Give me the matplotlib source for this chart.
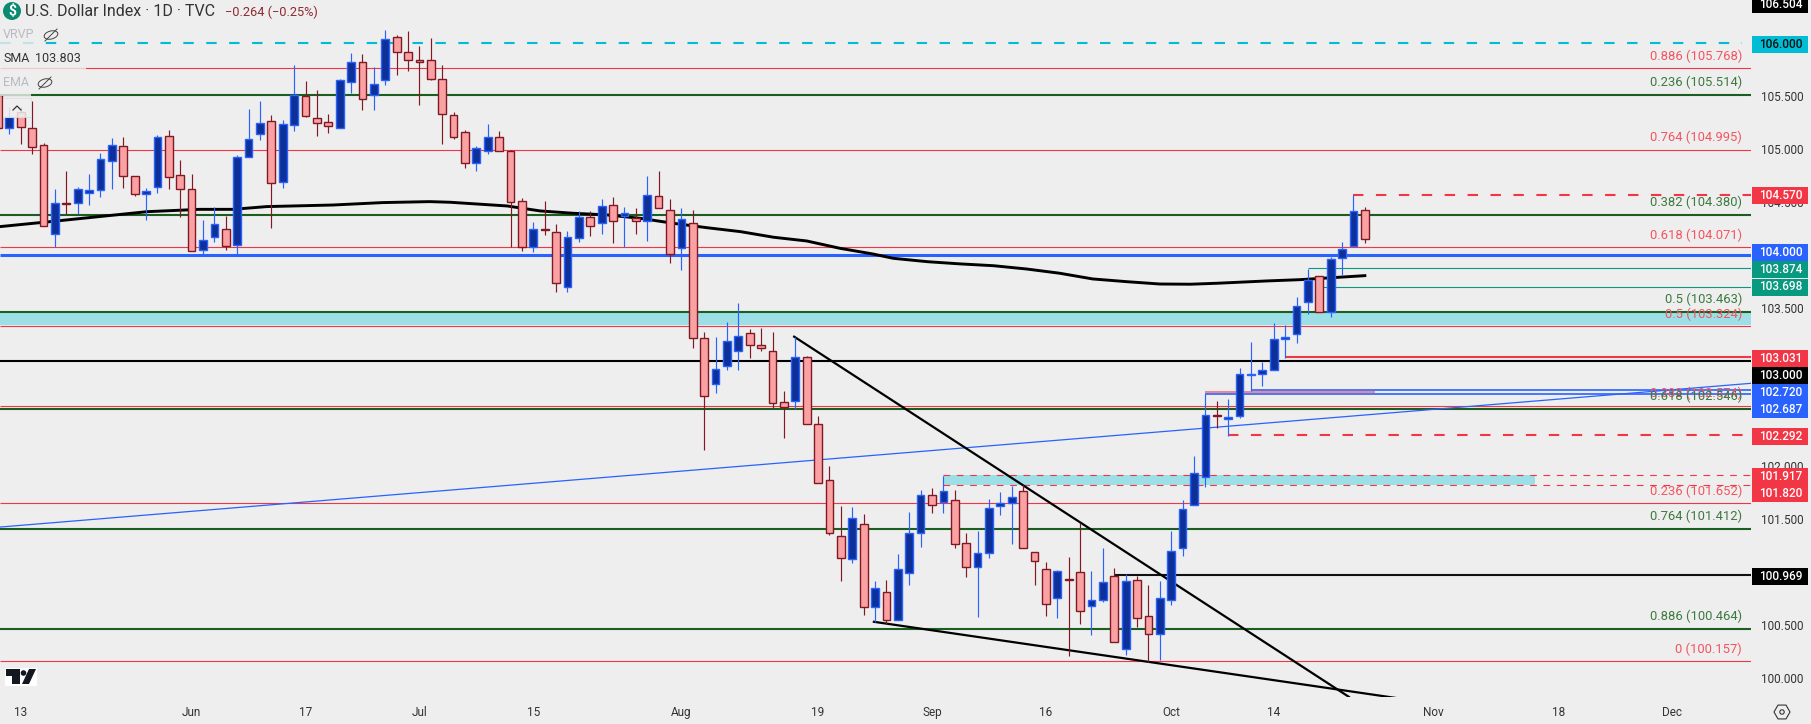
import numpy as np
import matplotlib
matplotlib.use("Agg")
import matplotlib.pyplot as plt
from matplotlib.patches import Rectangle, Circle, Ellipse, Polygon, RegularPolygon

plt.rcParams['font.family'] = ['Roboto', 'DejaVu Sans']

# candles, first one is cut off by the left edge
opens = [105.512, 105.196, 105.354, 105.196, 105.036, 104.194, 104.487, 104.487, 104.588, 104.610,
         104.891, 105.026, 104.743, 104.572, 104.639, 105.121, 104.752, 104.620, 104.043, 104.166,
         104.241, 104.090, 104.922, 105.140, 105.263, 104.686, 105.225, 105.499, 105.291, 105.253,
         105.196, 105.631, 105.821, 105.508, 105.650, 106.057, 105.915, 105.839, 105.839, 105.660,
         105.323, 105.159, 104.865, 104.979, 105.111, 104.979, 104.506, 104.071, 104.241, 104.213,
         103.693, 104.156, 104.355, 104.298, 104.468, 104.364, 104.345, 104.317, 104.553, 104.421,
         104.062, 104.298, 103.211, 102.776, 102.946, 103.088, 103.258, 103.144, 103.088, 102.605,
         102.615, 103.031, 102.397, 101.868, 101.338, 101.121, 101.452, 100.667, 100.809, 100.544,
         100.988, 101.367, 101.726, 101.660, 101.679, 101.272, 101.045, 101.177, 101.622, 101.650,
         101.764, 101.187, 101.026, 100.752, 100.932, 100.998, 100.676, 100.733, 100.960, 100.270,
         100.922, 100.582, 100.412, 100.733, 101.225, 101.631, 101.896, 102.482, 102.448, 102.473,
         102.867, 102.870, 102.908, 103.201, 103.248, 103.551, 103.797, 103.456, 103.967, 104.081,
         104.421]
closes = [105.196, 105.307, 105.206, 105.017, 104.276, 104.487, 104.484, 104.620, 104.610, 104.903,
          105.036, 104.743, 104.572, 104.601, 105.111, 104.733, 104.620, 104.033, 104.137, 104.289,
          104.081, 104.922, 105.092, 105.244, 104.676, 105.234, 105.508, 105.316, 105.244, 105.215,
          105.650, 105.821, 105.471, 105.613, 106.038, 105.915, 105.839, 105.821, 105.660, 105.329,
          105.118, 104.865, 105.007, 105.111, 104.979, 104.497, 104.071, 104.241, 104.238, 103.731,
          104.166, 104.355, 104.270, 104.459, 104.317, 104.393, 104.317, 104.563, 104.440, 104.005,
          104.336, 103.211, 102.662, 102.917, 103.182, 103.230, 103.144, 103.116, 102.596, 102.558,
          103.031, 102.397, 101.839, 101.367, 101.130, 101.508, 100.667, 100.846, 100.544, 101.026,
          101.367, 101.726, 101.631, 101.764, 101.263, 101.045, 101.177, 101.603, 101.650, 101.707,
          101.225, 101.102, 100.695, 101.007, 100.928, 100.629, 100.733, 100.903, 100.336, 100.913,
          100.563, 100.412, 100.752, 101.196, 101.594, 101.934, 102.482, 102.479, 102.467, 102.870,
          102.870, 102.908, 103.201, 103.220, 103.513, 103.759, 103.456, 103.958, 104.052, 104.412,
          104.147]
highs = [105.527, 105.401, 105.401, 105.455, 105.055, 104.623, 104.793, 104.645, 104.765, 104.963,
         105.105, 105.114, 104.743, 104.632, 105.133, 105.181, 104.897, 104.765, 104.330, 104.453,
         104.371, 104.944, 105.379, 105.455, 105.323, 105.275, 105.792, 105.644, 105.559, 105.332,
         105.660, 105.909, 105.899, 105.776, 106.126, 106.079, 106.117, 105.975, 106.051, 105.792,
         105.354, 105.181, 105.029, 105.234, 105.171, 104.992, 104.538, 104.308, 104.509, 104.289,
         104.222, 104.412, 104.415, 104.528, 104.547, 104.453, 104.443, 104.746, 104.793, 104.528,
         104.443, 104.424, 103.270, 103.223, 103.365, 103.545, 103.296, 103.308, 103.270, 102.709,
         103.226, 103.040, 102.473, 102.003, 101.622, 101.613, 101.546, 100.916, 100.925, 101.171,
         101.568, 101.776, 101.795, 101.906, 101.776, 101.367, 101.389, 101.691, 101.757, 101.814,
         101.824, 101.187, 101.092, 101.020, 101.143, 101.461, 101.010, 101.228, 101.039, 100.979,
         100.963, 100.878, 100.916, 101.389, 101.682, 102.098, 102.684, 102.618, 102.637, 102.930,
         103.176, 102.987, 103.356, 103.337, 103.601, 103.863, 103.797, 103.977, 104.122, 104.566,
         104.449]
lows = [105.165, 105.140, 105.048, 104.957, 104.276, 104.074, 104.386, 104.386, 104.475, 104.550,
        104.623, 104.632, 104.560, 104.333, 104.588, 104.623, 104.361, 104.033, 103.999, 104.122,
        104.046, 104.008, 104.922, 105.086, 104.254, 104.632, 105.174, 105.307, 105.124, 105.152,
        105.196, 105.531, 105.370, 105.370, 105.606, 105.701, 105.739, 105.417, 105.653, 105.048,
        105.096, 104.824, 104.796, 104.957, 104.979, 104.077, 104.040, 104.030, 104.191, 103.652,
        103.652, 104.125, 104.178, 104.200, 104.115, 104.077, 104.200, 104.134, 104.440, 103.926,
        103.860, 103.122, 102.158, 102.697, 102.914, 102.914, 103.028, 103.094, 102.549, 102.271,
        102.539, 102.397, 101.839, 101.354, 100.916, 101.086, 100.594, 100.528, 100.509, 100.544,
        100.878, 101.237, 101.559, 101.559, 101.228, 100.954, 100.575, 101.133, 101.540, 101.266,
        101.225, 100.878, 100.585, 100.566, 100.207, 100.509, 100.405, 100.717, 100.336, 100.216,
        100.481, 100.150, 100.169, 100.689, 101.152, 101.631, 101.808, 102.363, 102.287, 102.457,
        102.713, 102.760, 102.908, 103.025, 103.166, 103.441, 103.456, 103.412, 103.810, 104.081,
        104.112]

# 200 sma at these bars
sma_x = [-0.8, 3.6, 12.1, 16.7, 19.6, 22.6, 28.4, 32.8, 36.9, 38.7, 43.7, 46.6, 49.5, 52.5, 55.4, 58.3,
         61.2, 64.2, 67.1, 70.0, 72.9, 75.8, 77.6, 80.6, 83.5, 86.4, 89.3, 92.2, 95.1, 98.1, 101.0,
         103.7, 106.0, 110.4, 113.3, 119.0]
sma_y = [104.267, 104.314, 104.408, 104.430, 104.430, 104.456, 104.471, 104.494, 104.503, 104.497,
         104.462, 104.415, 104.393, 104.377, 104.345, 104.298, 104.257, 104.219, 104.166, 104.131,
         104.062, 104.008, 103.967, 103.935, 103.914, 103.897, 103.866, 103.826, 103.772, 103.746,
         103.724, 103.722, 103.731, 103.753, 103.765, 103.803]

# fib levels
red_fibs = [105.768, 104.995, 104.071, 103.324, 102.574, 101.652, 100.157]
red_names = ["0.886", "0.764", "0.618", "0.5", "0.382", "0.236", "0"]
green_fibs = [105.514, 104.380, 103.463, 102.546, 101.412, 100.464]
green_names = ["0.236", "0.382", "0.5", "0.618", "0.764", "0.886"]

# trendlines
fall_x = [68.9, 117.6]
fall_y = [103.226, 99.82]
wedge_x = [75.9, 121.7]
wedge_y = [100.53, 99.81]
rise_x = [-0.8, 152.9]
rise_y = [101.426, 102.785]

# price tags on the right
tag_vals = ["106.504", "106.000", "104.570", "104.000", "103.874", "103.698", "103.031", "103.000",
            "102.720", "102.687", "102.292", "101.917", "101.820", "100.969"]
tag_px = [4, 44.7, 195.5, 252.7, 269.5, 287, 358.7, 375.7, 392.7, 409.7, 436.7, 476.7, 493.7, 576.3]
tag_bg = ["#000000", "#00BCD4", "#F23645", "#2962FF", "#089981", "#089981", "#F23645", "#000000",
          "#2962FF", "#2962FF", "#F23645", "#F23645", "#F23645", "#000000"]

date_pos = [1, 16, 26, 36, 46, 59, 71, 81, 91, 102, 111, 125, 136, 146]
date_txt = ["13", "Jun", "17", "Jul", "15", "Aug", "19", "Sep", "16", "Oct", "14", "Nov", "18", "Dec"]

bg = "#EEEEEE"
red = "#F23645"
green = "#1B5E20"
blue = "#2962FF"

fig = plt.figure(figsize=(18.11, 7.24), dpi=100, facecolor=bg)
ax = fig.add_axes([0, (724 - 697.3) / 724, 1751 / 1811, 697.3 / 724], facecolor=bg)
ax.set_xlim(-0.82, 152.9)
ax.set_ylim(99.816, 106.4095)

# zones
ax.fill_between([-0.82, 152.9], 103.335, 103.45, color="#9DDFE6", lw=0, zorder=1)
ax.fill_between([82, 133.9], 101.82, 101.917, color="#9DDFE6", lw=0, zorder=1)

# levels
ax.hlines(red_fibs, -0.82, 152.9, color=red, lw=0.8, zorder=2)
ax.hlines(green_fibs, -0.82, 152.9, color=green, lw=1.5, zorder=2)
ax.hlines(104.0, -0.82, 152.9, color=blue, lw=2.2, zorder=2)
ax.hlines(103.0, -0.82, 152.9, color="black", lw=1.5, zorder=2)
ax.hlines(100.969, 97, 152.9, color="#111111", lw=1.5, zorder=2)
ax.hlines(106.0, -0.82, 152.1, color="#00BCD4", lw=1.5, linestyle=(0, (5, 6)), zorder=2)
ax.hlines(104.57, 118, 152.9, color=red, lw=1.5, linestyle=(0, (5, 6)), zorder=2)
ax.hlines(102.292, 107, 152.9, color=red, lw=1.5, linestyle=(0, (5, 6)), zorder=2)
ax.hlines([101.917, 101.82], 82, 152.9, color=red, lw=0.8, linestyle=(0, (6, 6)), zorder=2)
ax.hlines([103.874], 114, 152.9, color="#089981", lw=0.8, zorder=2)
ax.hlines([103.698], 115, 152.9, color="#089981", lw=0.8, zorder=2)
ax.hlines(103.031, 112, 152.9, color=red, lw=1.5, zorder=2)
ax.hlines(102.706, 105, 119.9, color="#F0868E", lw=1.5, zorder=2)
ax.hlines(102.72, 109, 152.9, color=blue, lw=1.2, zorder=2)
ax.hlines(102.687, 105, 152.9, color=blue, lw=1.2, zorder=2)

# sma and trendlines
ax.plot(sma_x, sma_y, color="black", lw=2.1, zorder=3)
ax.plot(rise_x, rise_y, color=blue, lw=0.9, zorder=3)
ax.plot(fall_x, fall_y, color="black", lw=1.6, zorder=3)
ax.plot(wedge_x, wedge_y, color="black", lw=1.6, zorder=3)

# candles
x = np.arange(-1, 120)
o = np.array(opens)
c = np.array(closes)
up = c >= o
ax.vlines(x[up], np.array(lows)[up], np.array(highs)[up], color=blue, lw=0.85, zorder=4)
ax.vlines(x[~up], np.array(lows)[~up], np.array(highs)[~up], color="#801922", lw=0.85, zorder=4)
ax.bar(x[up], (c - o)[up], bottom=o[up], width=0.68, color="#0D3199", edgecolor=blue, lw=1.0, zorder=5)
ax.bar(x[~up], (o - c)[~up], bottom=c[~up], width=0.68, color="#FAA1A4", edgecolor="#801922", lw=1.0, zorder=5)

for s in ax.spines.values():
    s.set_visible(False)
ax.yaxis.tick_right()
ax.set_yticks(np.arange(100, 106.5, 0.5))
ax.set_yticklabels(["%.3f" % v for v in np.arange(100, 106.5, 0.5)])
ax.tick_params(axis="y", length=0, pad=7, labelsize=8.5, labelcolor="#333333")
ax.set_xticks(date_pos)
ax.set_xticklabels(date_txt)
ax.tick_params(axis="x", length=0, pad=6, labelsize=8.5, labelcolor="#333333")

# overlay in plain pixels for the tv furniture
ov = fig.add_axes([0, 0, 1, 1], facecolor="none")
ov.set_xlim(0, 1811)
ov.set_ylim(724, 0)
ov.axis("off")

for v, n in zip(red_fibs, red_names):
    yy = ax.transData.transform((0, v))[1]
    ov.text(1742, 724 - yy - 12, "%s (%.3f)" % (n, v), color="#F4545F", ha="right", va="center", fontsize=9.4)
for v, n in zip(green_fibs, green_names):
    yy = ax.transData.transform((0, v))[1]
    ov.text(1742, 724 - yy - 12, "%s (%.3f)" % (n, v), color="#3C7A40", ha="right", va="center", fontsize=9.4)

for t, p, b in zip(tag_vals, tag_px, tag_bg):
    ov.add_patch(Rectangle((1752, p - 8.5), 56, 17, fc=b, ec="none", zorder=6))
    ov.text(1781, p, t, color="white" if b != "#00BCD4" else "#111111", ha="center", va="center",
            fontsize=8.5, zorder=7, fontweight="medium")

# header
ov.add_patch(Circle((12, 11), 9, fc="#0B8A72", ec="none"))
ov.text(12, 11, "$", color="white", ha="center", va="center", fontsize=10, fontweight="bold")
ov.text(25, 12, "U.S. Dollar Index · 1D · TVC", color="#333333", ha="left", va="center", fontsize=11.5)
ov.text(225, 12, "−0.264 (−0.25%)", color="#8E2A32", ha="left", va="center", fontsize=9.2)

# legend rows
ov.add_patch(Rectangle((0, 25), 36, 20, fc=bg, ec="none", alpha=0.8))
ov.add_patch(Rectangle((0, 47), 86, 26, fc=bg, ec="none", alpha=0.8))
ov.add_patch(Rectangle((0, 73), 31, 23, fc=bg, ec="none", alpha=0.8))
ov.text(3, 35, "VRVP", color="#B8BBC2", ha="left", va="center", fontsize=9)
ov.text(3, 59, "SMA", color="#333333", ha="left", va="center", fontsize=9)
ov.text(35, 59, "103.803", color="#333333", ha="left", va="center", fontsize=9)
ov.text(3, 83, "EMA", color="#B8BBC2", ha="left", va="center", fontsize=9)
for ex, ey in [(51, 35), (45, 83)]:
    ov.add_patch(Ellipse((ex, ey), 14, 8, angle=-15, fc="none", ec="#444444", lw=0.7))
    ov.plot([ex - 6, ex + 6], [ey + 6, ey - 6], color="#444444", lw=0.7)
ov.add_patch(Rectangle((3, 98), 28, 19, fc="#F0F0F0", ec="#DDDDDD", lw=0.7, alpha=0.85))
ov.plot([13, 17, 21], [110, 106, 110], color="#333333", lw=0.9)

# tv logo
ov.add_patch(Rectangle((5, 668), 32, 18, fc="white", ec="none"))
ov.add_patch(Polygon([(6, 669), (20, 669), (20, 684), (12, 684), (12, 676), (6, 676)], fc="#131722", ec="none"))
ov.add_patch(Circle((23.5, 673), 2.8, fc="#131722", ec="none"))
ov.add_patch(Polygon([(29, 669), (36, 669), (29, 684), (22, 684)], fc="#131722", ec="none"))

# settings button
ov.add_patch(RegularPolygon((1782, 712), 6, radius=8, orientation=np.pi / 2, fc="none", ec="#333333", lw=0.8))
ov.add_patch(Circle((1782, 712), 2.2, fc="none", ec="#333333", lw=0.8))

fig.savefig("out.png", dpi=100, facecolor=bg)
